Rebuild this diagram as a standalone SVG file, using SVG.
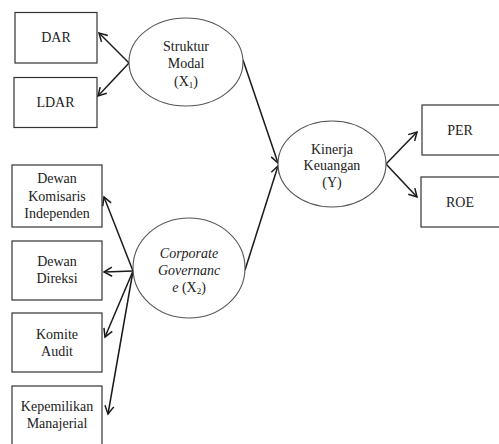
<svg xmlns="http://www.w3.org/2000/svg" width="499" height="444" viewBox="0 0 499 444">
<style>
.box{fill:#fff;stroke:#333;stroke-width:1.2}
.ell{fill:#fff;stroke:#555;stroke-width:1.1}
text{font-family:'Liberation Serif','Times New Roman',Times,'DejaVu Serif',serif;font-size:14px;fill:#222;text-anchor:middle}
.it{font-style:italic}
.c{stroke:#1a1a1a;stroke-width:1.5;fill:none;marker-end:url(#ah)}
</style>
<defs>
<marker id="ah" markerUnits="userSpaceOnUse" markerWidth="12" markerHeight="12" refX="9" refY="5" orient="auto" viewBox="0 0 12 10">
<path d="M1,0.5 L9,5 L1,9.5" fill="none" stroke="#1a1a1a" stroke-width="1.5"/>
</marker>
</defs>
<rect width="499" height="444" fill="#fff"/>
<g id="connectors">
<line class="c" x1="129" y1="63" x2="99" y2="33"/>
<line class="c" x1="129" y1="63" x2="98" y2="96"/>
<line class="c" x1="243" y1="60" x2="278" y2="163"/>
<line class="c" x1="245" y1="270" x2="278" y2="166"/>
<line class="c" x1="386" y1="164" x2="417" y2="132"/>
<line class="c" x1="386" y1="164" x2="417" y2="197"/>
<line class="c" x1="133" y1="271" x2="104" y2="197"/>
<line class="c" x1="133" y1="271" x2="104" y2="272"/>
<line class="c" x1="133" y1="271" x2="105" y2="337"/>
<line class="c" x1="133" y1="271" x2="108" y2="414"/>
</g>
<g font-family="Liberation Serif, serif">
<g id="dar"><rect class="box" x="15" y="12.5" width="82" height="50.5"/><text x="56" y="42">DAR</text></g>
<g id="ldar"><rect class="box" x="14" y="77.5" width="83" height="50"/><text x="55.5" y="107">LDAR</text></g>
<g id="struktur"><ellipse class="ell" cx="186" cy="62" rx="57" ry="44"/>
<text x="186" y="51">Struktur</text><text x="186" y="68">Modal</text>
<text x="186" y="86">(X<tspan font-size="9" dy="2">1</tspan><tspan dy="-2">)</tspan></text></g>
<g id="kinerja"><ellipse class="ell" cx="332" cy="164" rx="54" ry="43"/>
<text x="332" y="154">Kinerja</text><text x="332" y="170">Keuangan</text><text x="332" y="187">(Y)</text></g>
<g id="per"><rect class="box" x="422" y="105" width="90" height="50"/><text x="460" y="135">PER</text></g>
<g id="roe"><rect class="box" x="421" y="177" width="90" height="50"/><text x="460" y="207">ROE</text></g>
<g id="dki"><rect class="box" x="12" y="165" width="90" height="62"/>
<text x="57" y="183">Dewan</text><text x="57" y="201">Komisaris</text><text x="57" y="218">Independen</text></g>
<g id="dd"><rect class="box" x="12" y="241" width="90" height="59"/>
<text x="57" y="266">Dewan</text><text x="57" y="283">Direksi</text></g>
<g id="ka"><rect class="box" x="12" y="313" width="90" height="59"/>
<text x="57" y="339">Komite</text><text x="57" y="356">Audit</text></g>
<g id="km"><rect class="box" x="12" y="386" width="90" height="70"/>
<text x="57" y="411">Kepemilikan</text><text x="57" y="428">Manajerial</text></g>
<g id="cg"><ellipse class="ell" cx="189" cy="268" rx="56" ry="50"/>
<text class="it" x="189" y="258">Corporate</text><text class="it" x="189" y="275">Governanc</text>
<text x="189" y="292"><tspan class="it">e</tspan> (X<tspan font-size="9" dy="2">2</tspan><tspan dy="-2">)</tspan></text></g>
</g>
</svg>
